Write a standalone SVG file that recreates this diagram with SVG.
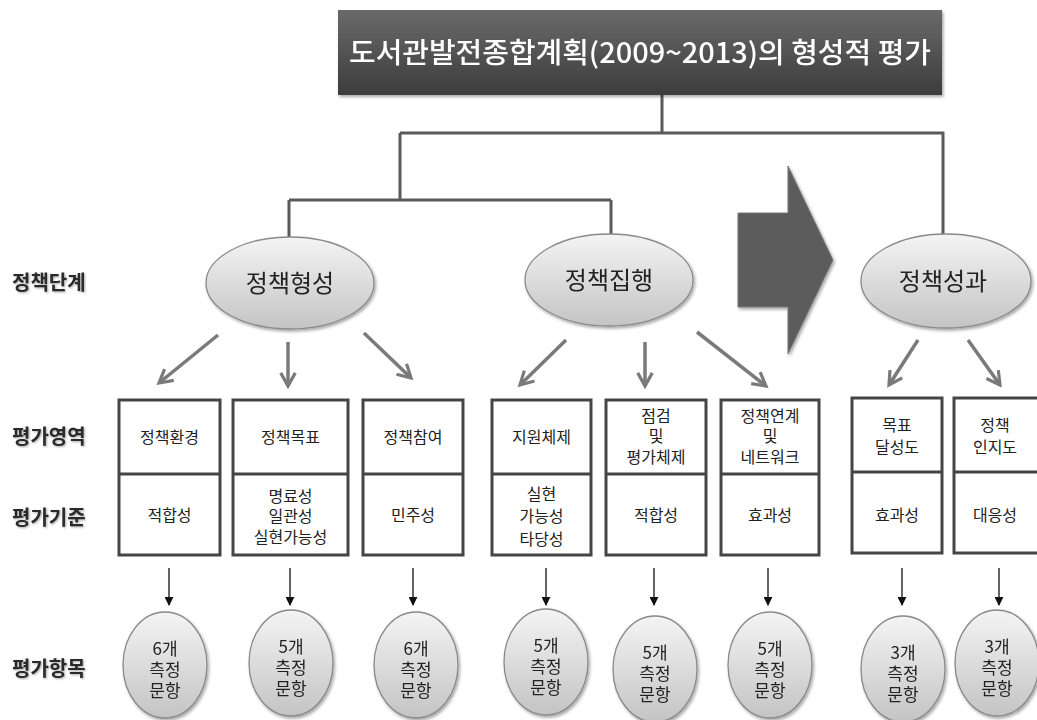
<svg xmlns="http://www.w3.org/2000/svg" width="1037" height="720" viewBox="0 0 1037 720">
<defs>
<linearGradient id="gTitle" x1="0" y1="0" x2="0" y2="1"><stop offset="0" stop-color="#6a6a6a"/><stop offset="1" stop-color="#3c3c3c"/></linearGradient>
<linearGradient id="gEll" x1="0" y1="0" x2="0" y2="1"><stop offset="0" stop-color="#f4f4f4"/><stop offset="1" stop-color="#c4c4c4"/></linearGradient>
<filter id="sh" x="-20%" y="-20%" width="140%" height="140%"><feDropShadow dx="1.5" dy="2" stdDeviation="1.5" flood-color="#000" flood-opacity="0.35"/></filter>
<filter id="tsh" x="-10%" y="-20%" width="120%" height="140%"><feDropShadow dx="1" dy="1" stdDeviation="0.8" flood-color="#000" flood-opacity="0.35"/></filter>
<marker id="chev" viewBox="0 0 12 12" refX="10" refY="6" markerWidth="5" markerHeight="5" orient="auto" markerUnits="strokeWidth"><path d="M1,1 L10,6 L1,11" fill="none" stroke="#7a7a7a" stroke-width="2.2"/></marker>
<marker id="tri" viewBox="0 0 10 10" refX="9" refY="5" markerWidth="9" markerHeight="9" orient="auto" markerUnits="userSpaceOnUse"><path d="M0,0 L10,5 L0,10 Z" fill="#111"/></marker>
<style>
.k{font-family:"Noto Sans CJK KR","Noto Sans",sans-serif;}
.lab{font-size:20px;font-weight:700;fill:#2a2a2a;}
.title{font-size:28px;fill:#fff;font-weight:500;}
.el{fill:url(#gEll);stroke:#8a8a8a;stroke-width:1.3;}
.et{font-size:24px;fill:#222;text-anchor:middle;}
.box{fill:#fff;stroke:#454545;stroke-width:3;}
.bt{font-size:16px;fill:#222;text-anchor:middle;}
.st{font-size:17px;fill:#222;text-anchor:middle;}
.conn{fill:none;stroke:#5a5a5a;stroke-width:3;}
.ga{stroke:#7a7a7a;stroke-width:3.5;fill:none;marker-end:url(#chev);}
.ba{stroke:#111;stroke-width:1.3;marker-end:url(#tri);}
</style>
</defs>
<rect width="1037" height="720" fill="#fff"/>

<g id="labels" class="k lab" filter="url(#tsh)">
<text x="12" y="290">정책단계</text>
<text x="12" y="444">평가영역</text>
<text x="12" y="525">평가기준</text>
<text x="12" y="676">평가항목</text>
</g>

<g id="connectors">
<path class="conn" d="M662,95 V133 M400,133 H943 V235 M400,133 V200 M289,200 H611 M289,200 V238 M611,200 V234"/>
<line class="ga" x1="218" y1="335" x2="159" y2="383"/>
<line class="ga" x1="288" y1="342" x2="288" y2="386"/>
<line class="ga" x1="364" y1="333" x2="411" y2="378"/>
<line class="ga" x1="566" y1="340" x2="520" y2="385"/>
<line class="ga" x1="645" y1="342" x2="645" y2="386"/>
<line class="ga" x1="697" y1="332" x2="766" y2="386"/>
<line class="ga" x1="918" y1="340" x2="889" y2="385"/>
<line class="ga" x1="968" y1="340" x2="1000" y2="385"/>
<line class="ba" x1="169" y1="568" x2="169" y2="605"/>
<line class="ba" x1="290" y1="568" x2="290" y2="605"/>
<line class="ba" x1="413" y1="568" x2="413" y2="605"/>
<line class="ba" x1="546" y1="568" x2="546" y2="605"/>
<line class="ba" x1="654" y1="568" x2="654" y2="605"/>
<line class="ba" x1="768" y1="568" x2="768" y2="605"/>
<line class="ba" x1="902" y1="568" x2="902" y2="605"/>
<line class="ba" x1="999" y1="568" x2="999" y2="605"/>
</g>

<g id="title" filter="url(#sh)">
<rect x="338" y="10" width="604" height="85" fill="url(#gTitle)"/>
<text class="k title" x="640" y="63" text-anchor="middle" textLength="582" lengthAdjust="spacingAndGlyphs">도서관발전종합계획(2009~2013)의 형성적 평가</text>
</g>

<g id="bigArrow" filter="url(#sh)">
<path d="M738,213 H788 V166 L833,260 L788,354 V307 H738 Z" fill="#5c5c5c" stroke="#7a7a7a" stroke-width="1"/>
</g>

<g id="stage1" filter="url(#sh)"><ellipse class="el" cx="290" cy="283" rx="84" ry="46"/><text class="k et" x="290" y="292">정책형성</text></g>
<g id="stage2" filter="url(#sh)"><ellipse class="el" cx="609" cy="280" rx="84" ry="46"/><text class="k et" x="609" y="289">정책집행</text></g>
<g id="stage3" filter="url(#sh)"><ellipse class="el" cx="946" cy="281" rx="85" ry="47"/><text class="k et" x="943" y="290">정책성과</text></g>

<g id="box1"><rect class="box" x="119" y="400" width="101" height="155"/><line class="box" x1="119" y1="474" x2="220" y2="474"/>
<text class="k bt" x="169.5" y="443">정책환경</text><text class="k bt" x="169.5" y="521">적합성</text></g>
<g id="box2"><rect class="box" x="233" y="400" width="115" height="155"/><line class="box" x1="233" y1="474" x2="348" y2="474"/>
<text class="k bt" x="290.5" y="443">정책목표</text><text class="k bt" x="290.5" y="502">명료성</text><text class="k bt" x="290.5" y="522">일관성</text><text class="k bt" x="290.5" y="543">실현가능성</text></g>
<g id="box3"><rect class="box" x="363" y="400" width="100" height="155"/><line class="box" x1="363" y1="474" x2="463" y2="474"/>
<text class="k bt" x="413" y="443">정책참여</text><text class="k bt" x="413" y="521">민주성</text></g>
<g id="box4"><rect class="box" x="492" y="400" width="99" height="155"/><line class="box" x1="492" y1="474" x2="591" y2="474"/>
<text class="k bt" x="541.5" y="443">지원체제</text><text class="k bt" x="541.5" y="500">실현</text><text class="k bt" x="541.5" y="522">가능성</text><text class="k bt" x="541.5" y="545">타당성</text></g>
<g id="box5"><rect class="box" x="606" y="400" width="100" height="155"/><line class="box" x1="606" y1="474" x2="706" y2="474"/>
<text class="k bt" x="656" y="422">점검</text><text class="k bt" x="656" y="442">및</text><text class="k bt" x="656" y="463">평가체제</text><text class="k bt" x="656" y="521">적합성</text></g>
<g id="box6"><rect class="box" x="721" y="400" width="98" height="155"/><line class="box" x1="721" y1="474" x2="819" y2="474"/>
<text class="k bt" x="770" y="422">정책연계</text><text class="k bt" x="770" y="442">및</text><text class="k bt" x="770" y="463">네트워크</text><text class="k bt" x="770" y="521">효과성</text></g>
<g id="box7"><rect class="box" x="852" y="398" width="90" height="155"/><line class="box" x1="852" y1="472" x2="942" y2="472"/>
<text class="k bt" x="897" y="431">목표</text><text class="k bt" x="897" y="453">달성도</text><text class="k bt" x="897" y="521">효과성</text></g>
<g id="box8"><rect class="box" x="954" y="398" width="100" height="155"/><line class="box" x1="954" y1="472" x2="1054" y2="472"/>
<text class="k bt" x="995" y="431">정책</text><text class="k bt" x="995" y="453">인지도</text><text class="k bt" x="995" y="521">대응성</text></g>

<g id="item1" filter="url(#sh)"><ellipse class="el" cx="165" cy="665" rx="42" ry="53"/><text class="k st" x="165" y="655">6개</text><text class="k st" x="165" y="676">측정</text><text class="k st" x="165" y="697">문항</text></g>
<g id="item2" filter="url(#sh)"><ellipse class="el" cx="291" cy="663" rx="42" ry="53"/><text class="k st" x="291" y="653">5개</text><text class="k st" x="291" y="674">측정</text><text class="k st" x="291" y="695">문항</text></g>
<g id="item3" filter="url(#sh)"><ellipse class="el" cx="416" cy="665" rx="42" ry="53"/><text class="k st" x="416" y="655">6개</text><text class="k st" x="416" y="676">측정</text><text class="k st" x="416" y="697">문항</text></g>
<g id="item4" filter="url(#sh)"><ellipse class="el" cx="546" cy="662" rx="42" ry="53"/><text class="k st" x="546" y="652">5개</text><text class="k st" x="546" y="673">측정</text><text class="k st" x="546" y="694">문항</text></g>
<g id="item5" filter="url(#sh)"><ellipse class="el" cx="655" cy="669" rx="42" ry="53"/><text class="k st" x="655" y="659">5개</text><text class="k st" x="655" y="680">측정</text><text class="k st" x="655" y="701">문항</text></g>
<g id="item6" filter="url(#sh)"><ellipse class="el" cx="770" cy="665" rx="42" ry="53"/><text class="k st" x="770" y="655">5개</text><text class="k st" x="770" y="676">측정</text><text class="k st" x="770" y="697">문항</text></g>
<g id="item7" filter="url(#sh)"><ellipse class="el" cx="903" cy="669" rx="42" ry="53"/><text class="k st" x="903" y="659">3개</text><text class="k st" x="903" y="680">측정</text><text class="k st" x="903" y="701">문항</text></g>
<g id="item8" filter="url(#sh)"><ellipse class="el" cx="997" cy="663" rx="42" ry="53"/><text class="k st" x="997" y="653">3개</text><text class="k st" x="997" y="674">측정</text><text class="k st" x="997" y="695">문항</text></g>
</svg>
